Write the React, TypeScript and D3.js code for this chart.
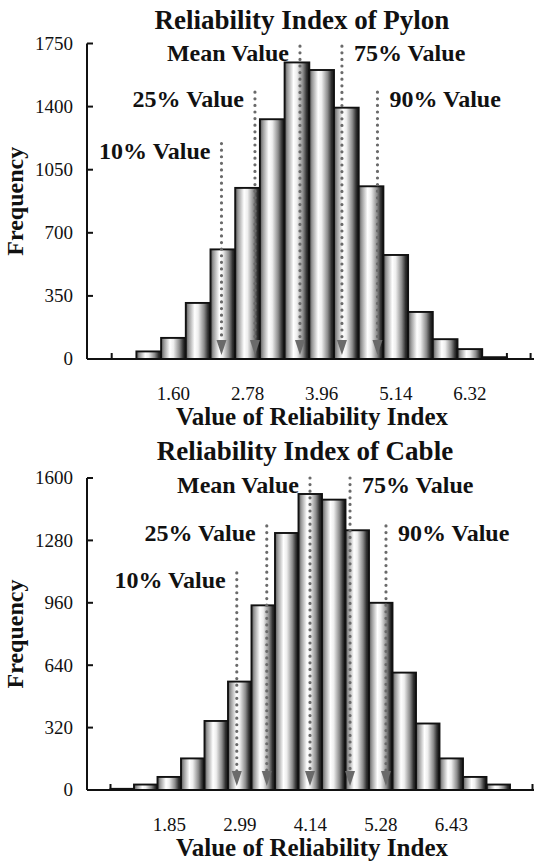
import * as d3 from 'd3';

// Frequencies per bin (first and last bins are empty)
const pylonCounts = [0, 0, 42, 117, 311, 608, 949, 1330, 1645, 1603, 1394, 958, 577, 261, 110, 55, 10, 0];
const cableCounts = [0, 6, 28, 67, 162, 354, 556, 947, 1318, 1518, 1489, 1332, 960, 602, 341, 162, 67, 28, 0];

const pylonTicks = ['1.60', '2.78', '3.96', '5.14', '6.32'];
const cableTicks = ['1.85', '2.99', '4.14', '5.28', '6.43'];

const pylonYTicks = [0, 350, 700, 1050, 1400, 1750];
const cableYTicks = [0, 320, 640, 960, 1280, 1600];

const markerNames = ['10% Value', '25% Value', 'Mean Value', '75% Value', '90% Value'];
const pylonMarkers = [2.365, 2.898, 3.615, 4.283, 4.849];
const cableMarkers = [2.947, 3.434, 4.136, 4.786, 5.37];
// where each dotted arrow starts, in frequency units
const pylonMarkerTops = [1195, 1480, 1735, 1735, 1480];
const cableMarkerTops = [1113, 1354, 1600, 1600, 1354];

const FONT = 'Liberation Serif';

interface HistProps {
  id: string;
  title: string;
  counts: number[];
  ticks: string[];
  yTicks: number[];
  markers: number[];
  markerTops: number[];
  x0: number;
  slot: number;
  yTop: number;
  y0: number;
  titleX: number;
  titleY: number;
}

function Histogram({ id, title, counts, ticks, yTicks, markers, markerTops, x0, slot, yTop, y0, titleX, titleY }: HistProps) {
  const n = counts.length;
  const xEnd = x0 + n * slot;
  const band = d3.scaleBand<number>().domain(d3.range(n)).range([x0, xEnd]).padding(0);
  const first = parseFloat(ticks[0]);
  const bw = (parseFloat(ticks[ticks.length - 1]) - first) / (3 * (ticks.length - 1));
  const x = d3.scaleLinear().domain([first - 3.5 * bw, first + (n - 3.5) * bw]).range([x0, xEnd]);
  const yMax = yTicks[yTicks.length - 1];
  const y = d3.scaleLinear().domain([0, yMax]).range([y0, yTop]);

  const gradId = `bar-grad-${id}`;
  const arrowFill = '#6a6a6a';
  const txt = { fontFamily: FONT, fill: '#111' };

  return (
    <g>
      <defs>
        <linearGradient id={gradId} x1="0" x2="1" y1="0" y2="0">
          <stop offset="0%" stopColor="#555" />
          <stop offset="12%" stopColor="#9a9a9a" />
          <stop offset="36%" stopColor="#ffffff" />
          <stop offset="50%" stopColor="#eeeeee" />
          <stop offset="74%" stopColor="#8c8c8c" />
          <stop offset="90%" stopColor="#2e2e2e" />
          <stop offset="100%" stopColor="#151515" />
        </linearGradient>
      </defs>

      <text x={titleX} y={titleY} textAnchor="middle" style={txt}
        fontWeight="bold" fontSize={27}>{title}</text>

      {counts.map((c, i) => c > 0 && (
        <rect key={i} x={band(i)} y={y(c)} width={band.bandwidth()} height={y0 - y(c)}
          fill={`url(#${gradId})`} stroke="#111" strokeWidth={1.9} />
      ))}

      {/* dotted arrows */}
      {markers.map((m, i) => {
        const mx = x(m);
        const top = y(markerTops[i]);
        const tip = y0 - 4;
        return (
          <g key={i}>
            <line x1={mx} x2={mx} y1={top} y2={tip - 14} stroke={arrowFill} strokeWidth={3.2}
              strokeLinecap="round" strokeDasharray="0 6.6" />
            <path d={`M${mx - 5},${tip - 15} L${mx + 5},${tip - 15} L${mx},${tip} Z`} fill={arrowFill} />
            <text x={i < 3 ? mx - 11 : mx + 12} y={top + 15} textAnchor={i < 3 ? 'end' : 'start'}
              style={txt} fontWeight="bold" fontSize={24}>{markerNames[i]}</text>
          </g>
        );
      })}

      {/* y axis */}
      <line x1={x0} x2={x0} y1={y(yMax)} y2={y0} stroke="#111" strokeWidth={2} />
      {yTicks.map(t => (
        <g key={t}>
          <line x1={x0} x2={x0 + 6} y1={y(t)} y2={y(t)} stroke="#111" strokeWidth={2} />
          <text x={73} y={y(t)} dy="0.34em" textAnchor="end" style={txt} fontSize={19}>{t}</text>
        </g>
      ))}

      {/* x axis */}
      <line x1={x0} x2={534} y1={y0} y2={y0} stroke="#111" strokeWidth={2} />
      {[1, 17, n].map(k => {
        const tx = k === n ? xEnd - 1 : x0 + k * slot;
        return <line key={k} x1={tx} x2={tx} y1={y0} y2={y0 - 6} stroke="#111" strokeWidth={2} />;
      })}
      {ticks.map((t, j) => (
        <text key={t} x={(band(3 + 3 * j) ?? 0) + band.bandwidth() / 2} y={y0 + 41} textAnchor="middle"
          style={txt} fontSize={19}>{t}</text>
      ))}
      <text x={312} y={y0 + 66} textAnchor="middle" style={txt}
        fontWeight="bold" fontSize={25}>Value of Reliability Index</text>
      <text transform={`translate(23,${(y0 + yTop) / 2}) rotate(-90)`} textAnchor="middle"
        style={txt} fontWeight="bold" fontSize={24}>Frequency</text>
    </g>
  );
}

export default function App() {
  return (
    <svg width={534} height={863} style={{ position: 'absolute', left: 0, top: 0, background: '#fff' }}>
      <rect width={534} height={863} fill="#fff" />
      <Histogram id="pylon" title="Reliability Index of Pylon" counts={pylonCounts} ticks={pylonTicks}
        yTicks={pylonYTicks} markers={pylonMarkers} markerTops={pylonMarkerTops}
        x0={87} slot={24.7} yTop={43.5} y0={359} titleX={302} titleY={29} />
      <Histogram id="cable" title="Reliability Index of Cable" counts={cableCounts} ticks={cableTicks}
        yTicks={cableYTicks} markers={cableMarkers} markerTops={cableMarkerTops}
        x0={87} slot={23.5} yTop={478} y0={790} titleX={305} titleY={460} />
    </svg>
  );
}
